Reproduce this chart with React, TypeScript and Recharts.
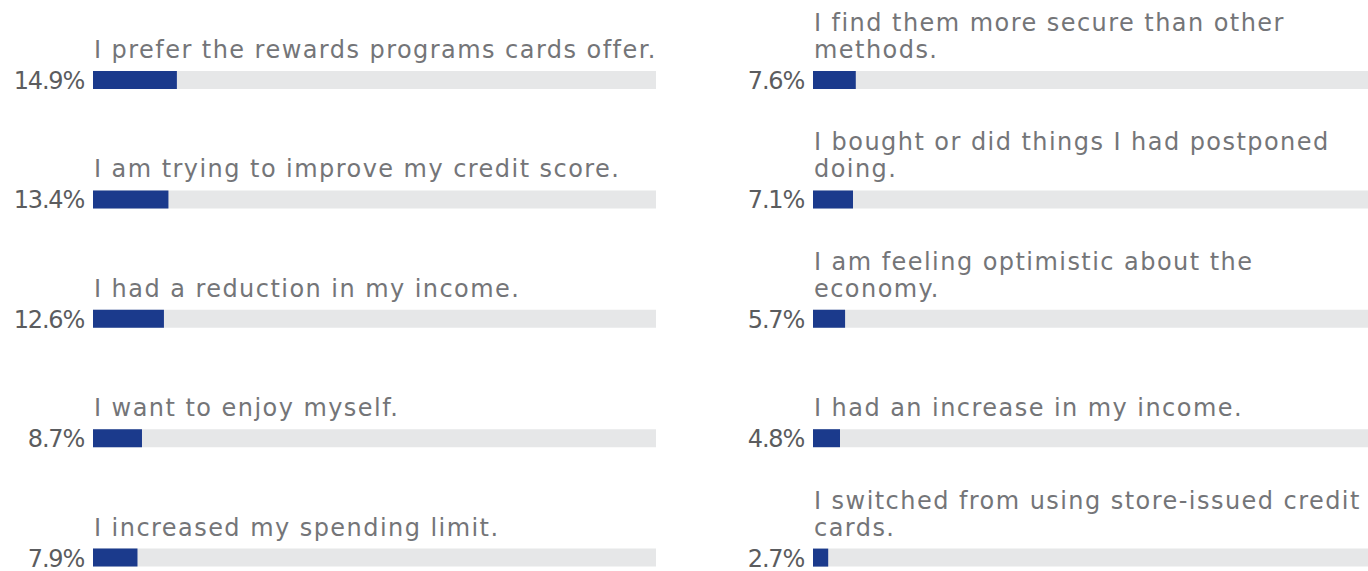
import React from "react";
import { Bar, BarChart, LabelList, XAxis, YAxis } from "recharts";

// Reasons, left column
const leftCategories = [
  "I prefer the rewards programs cards offer.",
  "I am trying to improve my credit score.",
  "I had a reduction in my income.",
  "I want to enjoy myself.",
  "I increased my spending limit.",
];
const leftValues = [14.9, 13.4, 12.6, 8.7, 7.9];

// Reasons, right column (explicit line breaks as in the source)
const rightCategories = [
  "I find them more secure than other\nmethods.",
  "I bought or did things I had postponed\ndoing.",
  "I am feeling optimistic about the\neconomy.",
  "I had an increase in my income.",
  "I switched from using store-issued credit\ncards.",
];
const rightValues = [7.6, 7.1, 5.7, 4.8, 2.7];

const BAR = "#1b3a8c";
const TRACK = "#e6e7e8";
const TEXT = "#747578";
const FONT = "'DejaVu Sans', sans-serif";

const CHART_W = 700;
const CHART_H = 640;
const MARGIN = { top: 20, right: 44, bottom: 23, left: 93 };

function NameLabel(props: any) {
  const { x, y, value } = props;
  const lines = String(value).split("\n");
  const n = lines.length;
  return (
    <text x={x} fill={TEXT} fontSize={24} fontFamily={FONT} letterSpacing={1.45}>
      {lines.map((ln, i) => (
        <tspan key={i} x={x + 1} y={y - 13 - (n - 1 - i) * 27}>
          {ln}
        </tspan>
      ))}
    </text>
  );
}

function PctLabel(props: any) {
  const { x, y, height, value } = props;
  return (
    <text
      x={x - 9}
      y={y + height}
      textAnchor="end"
      fill="#5b5c5e"
      fontSize={24}
      fontFamily={FONT}
      letterSpacing={-1.2}
    >
      {Number(value).toFixed(1)}%
    </text>
  );
}

function Column({ names, values }: { names: string[]; values: number[] }) {
  const data = names.map((name, i) => ({ name, value: values[i] }));
  return (
    <BarChart width={CHART_W} height={CHART_H} data={data} layout="vertical" margin={MARGIN}>
      <XAxis type="number" domain={[0, 100]} hide />
      <YAxis type="category" dataKey="name" hide />
      <Bar
        dataKey="value"
        fill={BAR}
        barSize={18}
        background={{ fill: TRACK }}
        isAnimationActive={false}
      >
        <LabelList dataKey="name" content={<NameLabel />} />
        <LabelList dataKey="value" content={<PctLabel />} />
      </Bar>
    </BarChart>
  );
}

export default function App() {
  return (
    <div
      style={{
        position: "absolute",
        left: 0,
        top: 0,
        width: 1368,
        height: 571,
        overflow: "hidden",
        background: "#fff",
      }}
    >
      <div style={{ position: "absolute", left: 0, top: 0 }}>
        <Column names={leftCategories} values={leftValues} />
      </div>
      <div style={{ position: "absolute", left: 720, top: 0 }}>
        <Column names={rightCategories} values={rightValues} />
      </div>
    </div>
  );
}
